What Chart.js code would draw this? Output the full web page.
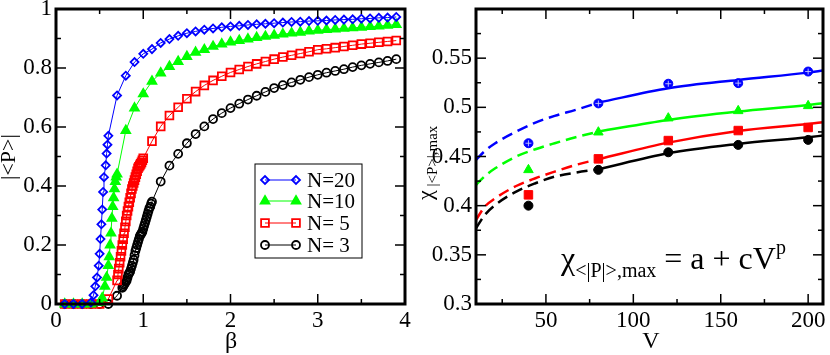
<!DOCTYPE html>
<html>
<head>
<meta charset="utf-8">
<script src="https://cdn.jsdelivr.net/npm/chart.js@4.4.0/dist/chart.umd.min.js"></script>
<style>
  html, body { margin: 0; padding: 0; background: #fff; }
  #wrap { position: relative; width: 830px; height: 355px; }
  canvas { position: absolute; top: 0; }
  #left { left: 0; }
  #right { left: 415px; }
</style>
</head>
<body>
<div id="wrap">
  <canvas id="left" width="415" height="355"></canvas>
  <canvas id="right" width="415" height="355"></canvas>
</div>
<script>
// ---- left panel: |<P>| vs beta ----
const seriesLabels = ["N=20", "N=10", "N= 5", "N= 3"];

const betaN20 = [0.1, 0.2, 0.3, 0.4, 0.43, 0.45, 0.47, 0.49, 0.50, 0.51, 0.52, 0.53, 0.54, 0.55, 0.57, 0.58, 0.59, 0.60,
  0.7, 0.8, 0.9, 1.0, 1.1, 1.2, 1.3, 1.4, 1.5, 1.6, 1.7, 1.8, 1.9, 2.0, 2.1, 2.2, 2.3, 2.4, 2.5, 2.6, 2.7, 2.8, 2.9,
  3.0, 3.1, 3.2, 3.3, 3.4, 3.5, 3.6, 3.7, 3.8, 3.9];
const polN20 = [0, 0, 0, 0.005, 0.03, 0.06, 0.09, 0.13, 0.17, 0.22, 0.27, 0.32, 0.38, 0.43, 0.47, 0.51, 0.54, 0.57,
  0.707, 0.774, 0.82, 0.848, 0.864, 0.885, 0.898, 0.909, 0.918, 0.924, 0.93, 0.934, 0.938, 0.941, 0.943, 0.946, 0.948,
  0.95, 0.952, 0.954, 0.956, 0.957, 0.959, 0.96, 0.961, 0.963, 0.964, 0.965, 0.967, 0.968, 0.97, 0.971, 0.973];

const betaN10 = [0.1, 0.2, 0.3, 0.4, 0.5, 0.53, 0.56, 0.58, 0.60, 0.61, 0.62, 0.63, 0.64, 0.65, 0.66, 0.67, 0.68, 0.69, 0.70,
  0.8, 0.9, 1.0, 1.1, 1.2, 1.3, 1.4, 1.5, 1.6, 1.7, 1.8, 1.9, 2.0, 2.1, 2.2, 2.3, 2.4, 2.5, 2.6, 2.7, 2.8, 2.9,
  3.0, 3.1, 3.2, 3.3, 3.4, 3.5, 3.6, 3.7, 3.8, 3.9];
const polN10 = [0, 0, 0, 0, 0.005, 0.02, 0.06, 0.09, 0.13, 0.16, 0.20, 0.24, 0.29, 0.33, 0.36, 0.39, 0.415, 0.43, 0.44,
  0.588, 0.664, 0.712, 0.755, 0.783, 0.805, 0.822, 0.839, 0.853, 0.862, 0.873, 0.881, 0.888, 0.893, 0.898, 0.903,
  0.907, 0.911, 0.915, 0.918, 0.921, 0.925, 0.928, 0.93, 0.932, 0.934, 0.936, 0.938, 0.94, 0.942, 0.945, 0.947];

const betaN5 = [0.1, 0.2, 0.3, 0.4, 0.5, 0.6,
  0.70, 0.71, 0.72, 0.73, 0.74, 0.75, 0.76, 0.77, 0.78, 0.79, 0.80, 0.81, 0.82, 0.83, 0.84, 0.85,
  0.86, 0.87, 0.88, 0.89, 0.90, 0.91, 0.92, 0.93, 0.94, 0.95, 0.96, 0.97, 0.98, 0.99, 1.00,
  1.1, 1.2, 1.3, 1.4, 1.5, 1.6, 1.7, 1.8, 1.9, 2.0, 2.1, 2.2, 2.3, 2.4, 2.5, 2.6, 2.7, 2.8, 2.9,
  3.0, 3.1, 3.2, 3.3, 3.4, 3.5, 3.6, 3.7, 3.8, 3.9];
const polN5 = [0, 0, 0, 0, 0, 0.017,
  0.08, 0.10, 0.12, 0.14, 0.16, 0.18, 0.20, 0.22, 0.24, 0.26, 0.28, 0.30, 0.315, 0.33, 0.345, 0.36,
  0.375, 0.39, 0.40, 0.41, 0.42, 0.43, 0.44, 0.45, 0.46, 0.465, 0.47, 0.475, 0.48, 0.487, 0.494,
  0.552, 0.602, 0.639, 0.667, 0.696, 0.72, 0.741, 0.758, 0.772, 0.785, 0.795, 0.805, 0.814, 0.822, 0.83,
  0.837, 0.843, 0.849, 0.855, 0.862, 0.865, 0.869, 0.873, 0.877, 0.881, 0.884, 0.887, 0.89, 0.893];

const betaN3 = [0.1, 0.2, 0.3, 0.4, 0.5, 0.6, 0.7,
  0.76, 0.77, 0.78, 0.79, 0.80, 0.81, 0.82, 0.83, 0.84, 0.85, 0.86, 0.87, 0.88, 0.89, 0.90, 0.91, 0.92,
  0.93, 0.94, 0.95, 0.96, 0.97, 0.98, 0.99, 1.00, 1.01, 1.02, 1.03, 1.04, 1.05, 1.06, 1.07, 1.08, 1.09, 1.10,
  1.2, 1.3, 1.4, 1.5, 1.6, 1.7, 1.8, 1.9, 2.0, 2.1, 2.2, 2.3, 2.4, 2.5, 2.6, 2.7, 2.8, 2.9,
  3.0, 3.1, 3.2, 3.3, 3.4, 3.5, 3.6, 3.7, 3.8, 3.9];
const polN3 = [0, 0, 0, 0, 0, 0, 0.028,
  0.055, 0.06, 0.065, 0.07, 0.075, 0.08, 0.09, 0.10, 0.105, 0.11, 0.12, 0.13, 0.14, 0.15, 0.165, 0.18, 0.19,
  0.20, 0.21, 0.22, 0.23, 0.235, 0.24, 0.245, 0.255, 0.265, 0.275, 0.285, 0.295, 0.305, 0.315, 0.325, 0.33, 0.34, 0.347,
  0.415, 0.469, 0.509, 0.545, 0.576, 0.602, 0.627, 0.647, 0.664, 0.679, 0.693, 0.706, 0.719, 0.732,
  0.742, 0.751, 0.76, 0.769, 0.777, 0.784, 0.79, 0.796, 0.803, 0.809, 0.814, 0.819, 0.824, 0.83];

const leftXTicks = [0, 1, 2, 3, 4];
const leftYTicks = [0, 0.2, 0.4, 0.6, 0.8, 1];
const leftXMinor = [0.5, 1.5, 2.5, 3.5];
const leftYMinor = [0.1, 0.3, 0.5, 0.7, 0.9];

// ---- right panel: chi_max vs V ----
const volumes = [40, 80, 120, 160, 200];
const chiN20 = [0.4635, 0.504, 0.524, 0.5246, 0.5364];
const chiN10 = [0.4364, 0.4747, 0.489, 0.4964, 0.5015];
const chiN5 = [0.411, 0.4476, 0.4662, 0.4764, 0.4795];
const chiN3 = [0.400, 0.4364, 0.4543, 0.4618, 0.4669];

// fit curves (dashed part, then solid part)
const fitVDash = [10, 15, 21, 33, 44, 55, 67, 80];
const fitDashN20 = [0.4465, 0.4555, 0.4635, 0.4753, 0.4845, 0.4913, 0.4974, 0.5048];
const fitDashN10 = [0.421, 0.430, 0.438, 0.450, 0.4574, 0.4635, 0.4696, 0.4753];
const fitDashN5 = [0.3855, 0.399, 0.4075, 0.42, 0.4279, 0.4346, 0.4414, 0.4472];
const fitDashN3 = [0.377, 0.3905, 0.4007, 0.4143, 0.4228, 0.4295, 0.4336, 0.437];

const fitVSolid = [80, 120, 160, 200, 208.5];
const fitSolidN20 = [0.5048, 0.5194, 0.5279, 0.5353, 0.5374];
const fitSolidN10 = [0.4753, 0.4872, 0.4957, 0.5024, 0.5042];
const fitSolidN5 = [0.4472, 0.4641, 0.476, 0.4831, 0.4848];
const fitSolidN3 = [0.437, 0.4533, 0.4628, 0.4696, 0.4713];

const rightXTicks = [50, 100, 150, 200];
const rightYTicks = [0.3, 0.35, 0.4, 0.45, 0.5, 0.55];
const rightXMinor = [25, 75, 125, 175];
const rightYMinor = [0.325, 0.375, 0.425, 0.475, 0.525, 0.575];

const colors = ["#0000ff", "#00ff00", "#ff0000", "#000000"];
const SERIF = "'Liberation Serif', 'DejaVu Serif', serif";

Chart.defaults.font.family = SERIF;
Chart.defaults.color = "#000";

function pts(xs, ys) {
  return xs.map((x, i) => ({ x: x, y: ys[i] }));
}

function makeScale(min, max, tickVals, isX, size, pad) {
  return {
    type: "linear",
    min: min,
    max: max,
    grid: { display: false, drawTicks: false },
    border: { display: false },
    ticks: {
      font: { size: 23 },
      color: "#000",
      padding: pad,
      autoSkip: false,
      maxRotation: 0,
      callback: (v) => String(v)
    },
    afterBuildTicks: (s) => { s.ticks = tickVals.map((v) => ({ value: v })); },
    afterFit: (s) => {
      if (isX) s.height = size; else s.width = size;
      s.paddingLeft = 0; s.paddingRight = 0; s.paddingTop = 0; s.paddingBottom = 0;
    }
  };
}

// frame + inward ticks on all four sides
const framePlugin = {
  id: "frame",
  afterDraw(chart, args, o) {
    const ctx = chart.ctx, a = chart.chartArea;
    const xs = chart.scales.x, ys = chart.scales.y;
    ctx.save();
    ctx.strokeStyle = "#000";
    ctx.lineWidth = 1.5;
    const line = (x1, y1, x2, y2) => { ctx.beginPath(); ctx.moveTo(x1, y1); ctx.lineTo(x2, y2); ctx.stroke(); };
    const xt = (vals, len) => vals.forEach((v) => {
      const p = xs.getPixelForValue(v);
      if (p <= a.left + 1 || p >= a.right - 1) return;
      line(p, a.bottom, p, a.bottom - len);
      line(p, a.top, p, a.top + len);
    });
    const yt = (vals, len) => vals.forEach((v) => {
      const p = ys.getPixelForValue(v);
      if (p <= a.top + 1 || p >= a.bottom - 1) return;
      line(a.left, p, a.left + len, p);
      line(a.right, p, a.right - len, p);
    });
    xt(o.xMajor, 10); xt(o.xMinor, 5);
    yt(o.yMajor, 10); yt(o.yMinor, 5);
    ctx.lineWidth = 3;
    ctx.strokeRect(a.left, a.top, a.right - a.left, a.bottom - a.top);
    ctx.restore();
  }
};

// plain and rich text pieces (titles, formula)
function richText(ctx, x, y, parts) {
  let cx = x;
  parts.forEach((p) => {
    ctx.font = p.size + "px " + SERIF;
    ctx.fillText(p.t, cx, y + (p.dy || 0));
    cx += ctx.measureText(p.t).width;
  });
}

const textPlugin = {
  id: "texts",
  afterDraw(chart, args, o) {
    const ctx = chart.ctx;
    ctx.save();
    ctx.fillStyle = "#000";
    ctx.textBaseline = "alphabetic";
    ctx.textAlign = "center";
    ctx.font = "24px " + SERIF;
    ctx.fillText(o.xTitle, o.xTitleX, o.xTitleY);
    ctx.textAlign = "left";
    ctx.translate(o.yTitleX, o.yTitleY);
    ctx.rotate(-Math.PI / 2);
    richText(ctx, 0, 0, o.yTitle);
    ctx.restore();
    if (o.formula) {
      ctx.save();
      ctx.fillStyle = "#000";
      ctx.textAlign = "left";
      richText(ctx, o.formulaX, o.formulaY, o.formula);
      ctx.restore();
    }
  }
};

// legend with a short line and a marker at both ends
const lineLegendPlugin = {
  id: "lineLegend",
  afterDraw(chart, args, o) {
    if (!o.show) return;
    const ctx = chart.ctx;
    ctx.save();
    ctx.strokeStyle = "#000";
    ctx.lineWidth = 1;
    ctx.strokeRect(o.x, o.y, o.w, o.h);
    chart.data.datasets.forEach((ds, i) => {
      const y = o.rowY[i];
      ctx.strokeStyle = ds.borderColor;
      ctx.lineWidth = 1;
      ctx.beginPath(); ctx.moveTo(o.x1, y); ctx.lineTo(o.x2, y); ctx.stroke();
      [o.x1, o.x2].forEach((px) => {
        ctx.strokeStyle = ds.pointBorderColor;
        ctx.fillStyle = ds.pointBackgroundColor;
        ctx.lineWidth = ds.pointBorderWidth;
        Chart.helpers.drawPoint(ctx, { pointStyle: ds.pointStyle, radius: ds.pointRadius, rotation: 0, borderWidth: ds.pointBorderWidth }, px, y);
      });
      ctx.fillStyle = "#000";
      ctx.font = "21px " + SERIF;
      ctx.textBaseline = "middle";
      ctx.fillText(ds.label, o.textX, y + 1);
    });
    ctx.restore();
  }
};

const leftInput = [
  { b: betaN20, p: polN20, style: "rectRot", r: 4, fill: "rgba(0,0,0,0)" },
  { b: betaN10, p: polN10, style: "triangle", r: 5, fill: colors[1] },
  { b: betaN5, p: polN5, style: "rect", r: 5.5, fill: "rgba(0,0,0,0)" },
  { b: betaN3, p: polN3, style: "circle", r: 4, fill: "rgba(0,0,0,0)" }
];

new Chart(document.getElementById("left"), {
  type: "line",
  data: {
    datasets: leftInput.map((s, i) => ({
      label: seriesLabels[i],
      data: pts(s.b, s.p),
      borderColor: colors[i],
      borderWidth: 1,
      pointStyle: s.style,
      pointRadius: s.r,
      pointBorderWidth: 1.8,
      pointBorderColor: colors[i],
      pointBackgroundColor: s.fill,
      tension: 0,
      clip: false
    }))
  },
  options: {
    responsive: false,
    animation: false,
    devicePixelRatio: 1,
    events: [],
    layout: { padding: { top: 9, right: 10, left: 0, bottom: 0 } },
    scales: {
      x: makeScale(0, 4, leftXTicks, true, 51, 3),
      y: makeScale(0, 1, leftYTicks, false, 56, 4)
    },
    plugins: {
      legend: { display: false },
      tooltip: { enabled: false },
      frame: { xMajor: leftXTicks, xMinor: leftXMinor, yMajor: leftYTicks, yMinor: leftYMinor },
      texts: {
        xTitle: "\u03b2", xTitleX: 231, xTitleY: 348,
        yTitle: [{ t: "|<P>|", size: 22 }], yTitleX: 15, yTitleY: 180
      },
      lineLegend: {
        show: true, x: 255, y: 164, w: 107, h: 94,
        x1: 265, x2: 296, textX: 307, rowY: [180, 201, 223, 245]
      }
    }
  },
  plugins: [framePlugin, textPlugin, lineLegendPlugin]
});

const rightInput = [
  { dash: fitDashN20, solid: fitSolidN20, chi: chiN20, style: "circle", r: 4.5 },
  { dash: fitDashN10, solid: fitSolidN10, chi: chiN10, style: "triangle", r: 5.5 },
  { dash: fitDashN5, solid: fitSolidN5, chi: chiN5, style: "rect", r: 6 },
  { dash: fitDashN3, solid: fitSolidN3, chi: chiN3, style: "circle", r: 4.5 }
];

const rightSets = [];
// white cross over the blue markers, as in the reference
rightSets.push({
  data: pts(volumes, chiN20), showLine: false, pointStyle: "cross", pointRadius: 3,
  pointBorderColor: "rgba(200,200,255,0.9)", pointBorderWidth: 1, clip: false
});
rightInput.forEach((s, i) => {
  rightSets.push({
    data: pts(volumes, s.chi), showLine: false, pointStyle: s.style, pointRadius: s.r,
    pointBackgroundColor: colors[i], pointBorderColor: colors[i], pointBorderWidth: 1, clip: false
  });
});
rightInput.forEach((s, i) => {
  rightSets.push({
    data: pts(fitVDash, s.dash), borderColor: colors[i], borderWidth: 2.5, borderDash: [11, 6],
    pointRadius: 0, cubicInterpolationMode: "monotone", clip: false
  });
  rightSets.push({
    data: pts(fitVSolid, s.solid), borderColor: colors[i], borderWidth: 2.5,
    pointRadius: 0, cubicInterpolationMode: "monotone", clip: false
  });
});

new Chart(document.getElementById("right"), {
  type: "line",
  data: { datasets: rightSets },
  options: {
    responsive: false,
    animation: false,
    devicePixelRatio: 1,
    events: [],
    layout: { padding: { top: 9, right: 5, left: 0, bottom: 0 } },
    scales: {
      x: makeScale(10, 208.5, rightXTicks, true, 51, 3),
      y: makeScale(0.3, 0.6, rightYTicks, false, 61, 4)
    },
    plugins: {
      legend: { display: false },
      tooltip: { enabled: false },
      frame: { xMajor: rightXTicks, xMinor: rightXMinor, yMajor: rightYTicks, yMinor: rightYMinor },
      texts: {
        xTitle: "V", xTitleX: 236, xTitleY: 348,
        yTitle: [{ t: "\u03c7", size: 22 }, { t: " |<P>|,max", size: 15, dy: 5 }], yTitleX: 17, yTitleY: 200,
        formula: [
          { t: "\u03c7", size: 32 },
          { t: "<|P|>,max", size: 20, dy: 8 },
          { t: " = a + cV", size: 32 },
          { t: "p", size: 20, dy: -15 }
        ],
        formulaX: 146, formulaY: 269
      }
    }
  },
  plugins: [framePlugin, textPlugin]
});
</script>
</body>
</html>
